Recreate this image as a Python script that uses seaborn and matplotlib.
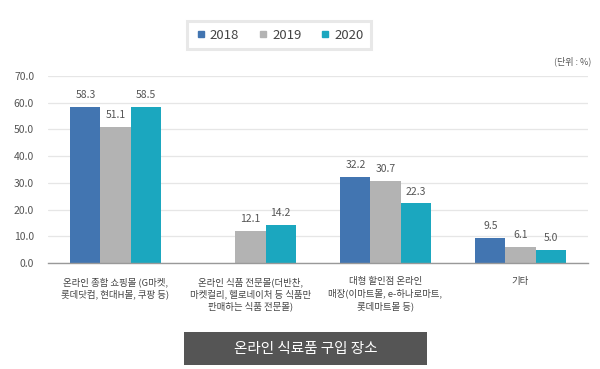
import numpy as np
import pandas as pd
import matplotlib
matplotlib.use("Agg")
import matplotlib.pyplot as plt
import matplotlib.patches as patches
from matplotlib.lines import Line2D
import seaborn as sns

# chart data
categories = [
    "온라인 종합 쇼핑몰 (G마켓,\n롯데닷컴, 현대H몰, 쿠팡 등)",
    "온라인 식품 전문몰(더반찬,\n마켓컬리, 헬로네이처 등 식품만\n판매하는 식품 전문몰)",
    "대형 할인점 온라인\n매장(이마트몰, e-하나로마트,\n롯데마트몰 등)",
    "기타",
]
years = ["2018", "2019", "2020"]
values_2018 = [58.3, np.nan, 32.2, 9.5]
values_2019 = [51.1, 12.1, 30.7, 6.1]
values_2020 = [58.5, 14.2, 22.3, 5.0]
y_ticks = [0, 10, 20, 30, 40, 50, 60, 70]
unit_label = "(단위 : %)"
axis_title = "온라인 식료품 구입 장소"

colors = ["#4275b1", "#b3b3b3", "#1ba7bf"]

sns.set_style("white")
plt.rcParams["font.family"] = ["Noto Sans CJK KR", "DejaVu Sans"]

df = pd.DataFrame({
    "category": categories * 3,
    "year": [y for y in years for _ in categories],
    "value": values_2018 + values_2019 + values_2020,
})

fig = plt.figure(figsize=(6.0, 3.69), dpi=100)
ax = fig.add_axes([0.08, 0.287, 0.9, 0.507])

sns.barplot(data=df, x="category", y="value", hue="year", order=categories,
            hue_order=years, palette=colors, width=0.667, saturation=1,
            linewidth=0, legend=False, ax=ax)

for c in ax.containers:
    ax.bar_label(c, fmt="%.1f", padding=5, fontsize=7.5, color="#555555")

ax.set_ylim(0, 70)
ax.set_xlim(-0.5, len(categories) - 0.5)
ax.set_yticks(y_ticks)
ax.set_yticklabels([f"{v:.1f}" for v in y_ticks], fontsize=7.5, color="#555555")
ax.yaxis.grid(True, color="#e6e6e6", linewidth=0.9)
ax.set_axisbelow(True)
ax.set_xlabel("")
ax.set_ylabel("")
ax.tick_params(axis="y", length=0, pad=10)
ax.set_xticks(range(len(categories)))
ax.set_xticklabels(categories, fontsize=6.8, color="#444444", linespacing=1.35)
ax.tick_params(axis="x", which="major", length=0, pad=10)
ax.set_xticks(np.arange(-0.5, len(categories)), minor=True)
ax.tick_params(axis="x", which="minor", direction="inout", length=15,
               color="#d0d0d0", width=0.9)
for s in ["top", "right", "left"]:
    ax.spines[s].set_visible(False)
ax.spines["bottom"].set_color("#999999")
ax.spines["bottom"].set_linewidth(1.0)

# unit label
fig.text(0.985, 0.835, unit_label, ha="right", va="center", fontsize=6.5, color="#555555")

# legend
handles = [Line2D([], [], marker="s", linestyle="", markersize=4.5,
                  markerfacecolor=c, markeredgecolor=c) for c in colors]
leg = fig.legend(handles, years, loc="center", bbox_to_anchor=(0.465, 0.905),
                 ncol=3, fontsize=9.5, frameon=True, fancybox=False,
                 handletextpad=0.2, columnspacing=1.3, borderpad=0.55,
                 handlelength=1.0)
leg.get_frame().set_edgecolor("#e3e3e3")
leg.get_frame().set_linewidth(2.2)
for t in leg.get_texts():
    t.set_color("#444444")

# x-axis title box
fig.patches.append(patches.Rectangle((184 / 600, 1 - 365 / 369), 243 / 600, 33 / 369,
                                     transform=fig.transFigure, facecolor="#555555",
                                     edgecolor="none"))
fig.text(305.5 / 600, 1 - 348.5 / 369, axis_title, ha="center", va="center",
         fontsize=10.5, color="white")

fig.savefig("out.png", dpi=100, facecolor="white")
